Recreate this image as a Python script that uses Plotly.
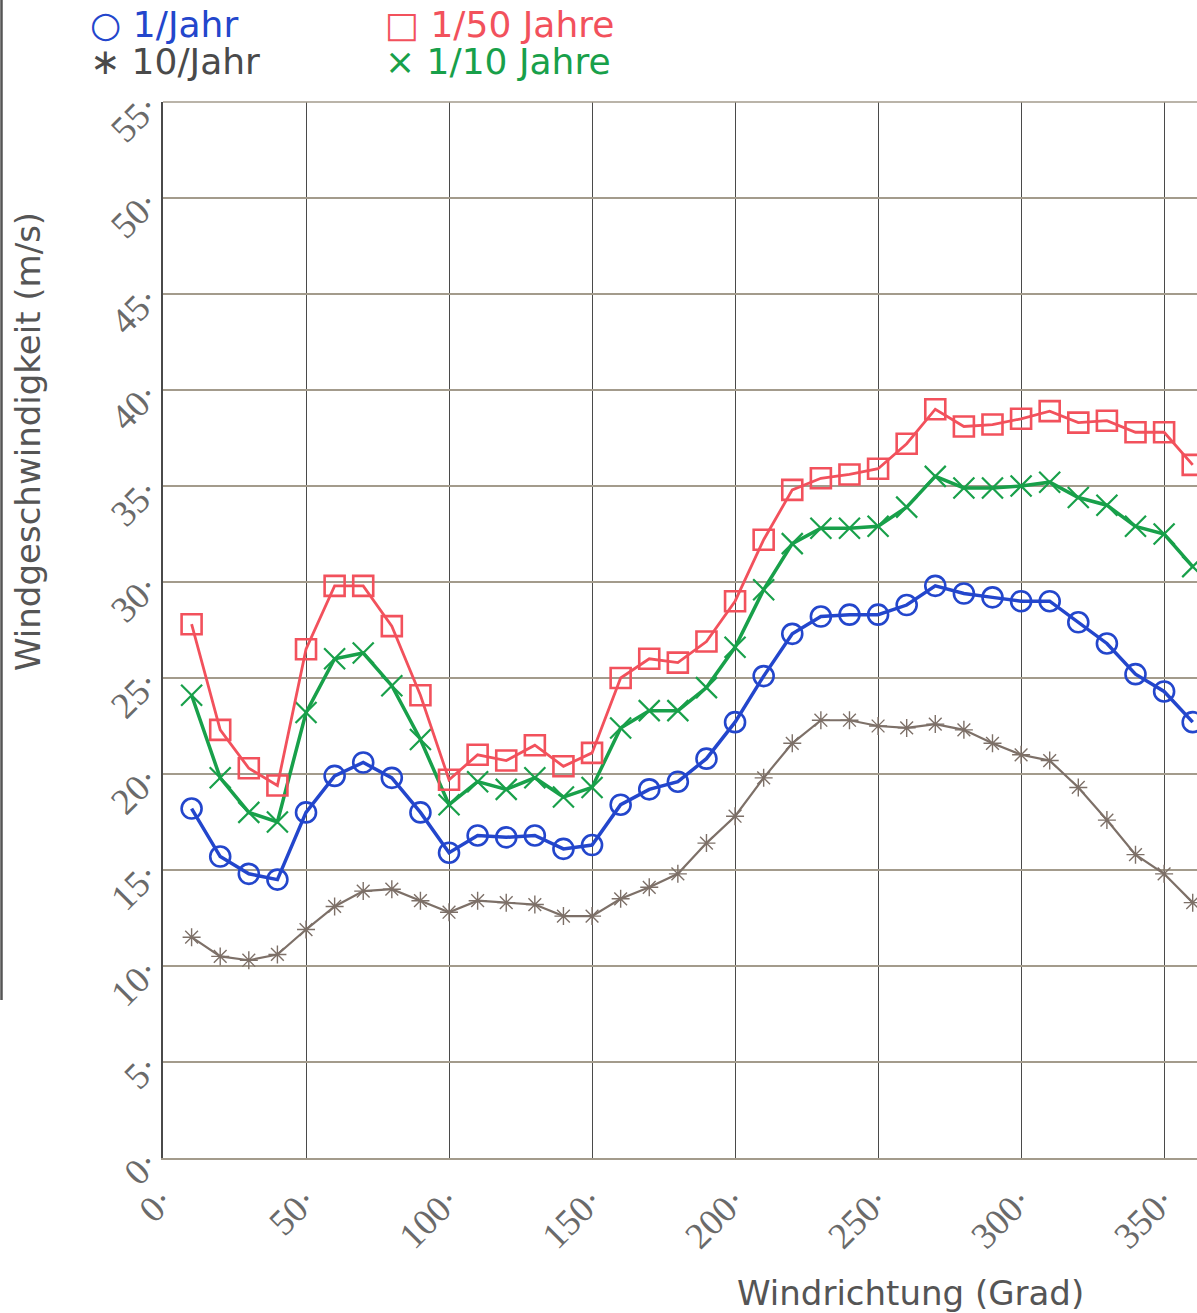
import plotly.graph_objects as go

# Wind direction sectors (degrees)
richtung = [10, 20, 30, 40, 50, 60, 70, 80, 90, 100, 110, 120, 130, 140, 150, 160, 170, 180,
            190, 200, 210, 220, 230, 240, 250, 260, 270, 280, 290, 300, 310, 320, 330, 340, 350, 360]

# Wind speed (m/s) per sector for each exceedance frequency
v_1_50_jahre = [27.8, 22.3, 20.3, 19.4, 26.5, 29.8, 29.8, 27.7, 24.1, 19.7, 21.0, 20.7, 21.5, 20.4,
                21.1, 25.0, 26.0, 25.8, 26.9, 29.0, 32.2, 34.8, 35.4, 35.6, 35.9, 37.2, 39.0, 38.1,
                38.2, 38.5, 38.9, 38.3, 38.4, 37.8, 37.8, 36.1]
v_1_10_jahre = [24.1, 19.8, 18.0, 17.5, 23.2, 26.0, 26.3, 24.6, 21.8, 18.4, 19.6, 19.2, 19.8, 18.8,
                19.3, 22.4, 23.3, 23.3, 24.5, 26.6, 29.6, 32.0, 32.8, 32.8, 32.9, 33.9, 35.5, 34.9,
                34.9, 35.0, 35.2, 34.4, 34.0, 32.9, 32.5, 30.8]
v_1_jahr = [18.2, 15.7, 14.8, 14.5, 18.0, 19.9, 20.6, 19.8, 18.0, 15.9, 16.8, 16.7, 16.8, 16.1,
            16.3, 18.4, 19.2, 19.6, 20.8, 22.7, 25.1, 27.3, 28.2, 28.3, 28.3, 28.8, 29.8, 29.4,
            29.2, 29.0, 29.0, 27.9, 26.8, 25.2, 24.3, 22.7]
v_10_jahr = [11.5, 10.5, 10.3, 10.6, 11.9, 13.1, 13.9, 14.0, 13.4, 12.8, 13.4, 13.3, 13.2, 12.6,
             12.6, 13.5, 14.1, 14.8, 16.4, 17.8, 19.8, 21.6, 22.8, 22.8, 22.5, 22.4, 22.6, 22.3,
             21.6, 21.0, 20.7, 19.3, 17.6, 15.8, 14.8, 13.3]

# Axis ticks
x_ticks = [0, 50, 100, 150, 200, 250, 300, 350]
y_ticks = [0, 5, 10, 15, 20, 25, 30, 35, 40, 45, 50, 55]

BLUE = "#2346cc"
RED = "#f2515c"
GREEN = "#18a04a"
BROWN = "#7d7068"
GRID_H = "#a39b8c"
GRID_V = "#4a4a4a"

fig = go.Figure()

fig.add_trace(go.Scatter(
    x=richtung, y=v_10_jahr, mode="lines+markers", name="10/Jahr",
    line=dict(color=BROWN, width=2.2),
    marker=dict(symbol="asterisk-open", size=15, line=dict(color="#5a5048", width=1.4)),
    cliponaxis=False))
fig.add_trace(go.Scatter(
    x=richtung, y=v_1_jahr, mode="lines+markers", name="1/Jahr",
    line=dict(color=BLUE, width=3.5),
    marker=dict(symbol="circle-open", size=20, line=dict(color=BLUE, width=2.6)),
    cliponaxis=False))
fig.add_trace(go.Scatter(
    x=richtung, y=v_1_10_jahre, mode="lines+markers", name="1/10 Jahre",
    line=dict(color=GREEN, width=3.5),
    marker=dict(symbol="x-thin-open", size=21, line=dict(color=GREEN, width=2.2)),
    cliponaxis=False))
fig.add_trace(go.Scatter(
    x=richtung, y=v_1_50_jahre, mode="lines+markers", name="1/50 Jahre",
    line=dict(color=RED, width=2.8),
    marker=dict(symbol="square-open", size=20, line=dict(color=RED, width=2.6)),
    cliponaxis=False))

tick_font = dict(family="Liberation Serif", size=37, color="#6a6a6a")

fig.update_layout(
    width=1197, height=1313,
    margin=dict(l=163, r=0, t=102, b=155),
    paper_bgcolor="white", plot_bgcolor="white",
    showlegend=False,
    xaxis=dict(
        range=[0, 361.5], tickmode="array", tickvals=x_ticks,
        ticktext=[f"{t}·" for t in x_ticks], tickangle=-45, tickfont=tick_font,
        ticklabelstandoff=4,
        showgrid=True, gridcolor=GRID_V, gridwidth=1,
        showline=True, linecolor=GRID_H, linewidth=1.5,
        zeroline=False, ticks="",
    ),
    yaxis=dict(
        range=[0, 55], tickmode="array", tickvals=y_ticks,
        ticktext=[f"{t}·" for t in y_ticks], tickangle=-45, tickfont=tick_font,
        ticklabelstandoff=6,
        showgrid=True, gridcolor=GRID_H, gridwidth=1.5,
        showline=True, linecolor=GRID_V, linewidth=1.5,
        zeroline=False, ticks="",
    ),
)

PW, PH = 1034.0, 1056.0  # plot area in px

def px(xp):
    return (xp - 163) / PW

def py(yp):
    return (1158 - yp) / PH

label_font = "DejaVu Sans"

# Axis titles
fig.add_annotation(text="Windrichtung (Grad)", xref="paper", yref="paper",
                   x=px(910), y=py(1293), xanchor="center", yanchor="middle",
                   showarrow=False,
                   font=dict(family=label_font, size=34, color="#555555"))
fig.add_annotation(text="Windgeschwindigkeit (m/s)", xref="paper", yref="paper",
                   x=px(28), y=py(442), xanchor="center", yanchor="middle",
                   showarrow=False, textangle=-90,
                   font=dict(family=label_font, size=34, color="#555555"))

# Legend block (two columns)
legend_items = [
    ("○ 1/Jahr", BLUE, 88, 25),
    ("∗ 10/Jahr", "#4a4a4a", 88, 61),
    ("□ 1/50 Jahre", RED, 383, 25),
    ("× 1/10 Jahre", GREEN, 383, 61),
]
for txt, col, xl, yc in legend_items:
    fig.add_annotation(text=txt, xref="paper", yref="paper", x=px(xl), y=py(yc),
                       xanchor="left", yanchor="middle", showarrow=False,
                       font=dict(family=label_font, size=36, color=col))

# Top frame line of the plot area
fig.add_shape(type="line", xref="paper", yref="paper", x0=0, x1=1, y0=1, y1=1,
              line=dict(color=GRID_H, width=1.5))

# Page border on the left
fig.add_shape(type="line", xref="paper", yref="paper",
              x0=px(1.5), x1=px(1.5), y0=py(0), y1=py(1000),
              line=dict(color="#555555", width=2.5))

fig.write_html("out.html")
